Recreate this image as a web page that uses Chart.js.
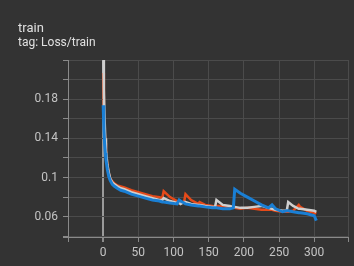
<!DOCTYPE html>
<html>
<head>
<meta charset="utf-8">
<script src="https://cdn.jsdelivr.net/npm/chart.js@4.4.1/dist/chart.umd.min.js"></script>
<style>
  html, body { margin: 0; padding: 0; background: #333333; }
  #wrap { position: relative; width: 354px; height: 266px; }
  .title { position: absolute; left: 18px; font-family: Roboto, sans-serif; color: #e0e0e0; white-space: nowrap; }
  #t1 { top: 20px; font-size: 13px; line-height: 15px; }
  #t2 { top: 35px; font-size: 12px; line-height: 14px; }
  canvas { position: absolute; left: 0; top: 0; }
</style>
</head>
<body>
<div id="wrap">
  <canvas id="lossChart" width="354" height="266"></canvas>
  <div class="title" id="t1">train</div>
  <div class="title" id="t2">tag: Loss/train</div>
</div>
<script>
// steps shared by all three runs
var steps = [0, 1, 2, 3, 4, 6, 8, 10, 13, 16, 20, 25, 30, 40, 50, 60, 70, 80, 84, 86,
  95, 105, 108, 110, 115, 117, 125, 135, 137, 145, 155, 159, 161, 170, 180, 185, 187,
  195, 205, 215, 225, 235, 240, 245, 255, 261, 263, 270, 278, 280, 290, 300, 303];

var lossGrey = [0.235, 0.19, 0.16, 0.14, 0.128, 0.113, 0.105, 0.099, 0.095, 0.093,
  0.091, 0.089, 0.088, 0.085, 0.083, 0.081, 0.079, 0.077, 0.077, 0.079,
  0.076, 0.074, 0.074, 0.073, 0.075, 0.075, 0.073, 0.072, 0.072, 0.071, 0.070, 0.070, 0.077,
  0.072, 0.071, 0.070, 0.070, 0.069, 0.069, 0.070, 0.071, 0.069, 0.068, 0.067, 0.066, 0.066,
  0.075, 0.071, 0.068, 0.068, 0.067, 0.066, 0.065];

var lossRed = [0.207, 0.17, 0.15, 0.135, 0.125, 0.112, 0.104, 0.099, 0.096, 0.094,
  0.092, 0.091, 0.090, 0.087, 0.085, 0.083, 0.081, 0.080, 0.079, 0.086,
  0.080, 0.076, 0.075, 0.074, 0.075, 0.083, 0.077, 0.073, 0.075, 0.072, 0.071, 0.070, 0.071,
  0.071, 0.069, 0.069, 0.069, 0.068, 0.069, 0.068, 0.067, 0.067, 0.067, 0.066, 0.065, 0.065,
  0.065, 0.066, 0.072, 0.070, 0.066, 0.064, 0.063];

var lossBlue = [0.174, 0.15, 0.135, 0.125, 0.118, 0.108, 0.101, 0.097, 0.093, 0.091,
  0.089, 0.087, 0.086, 0.083, 0.081, 0.079, 0.077, 0.076, 0.075, 0.075,
  0.074, 0.073, 0.077, 0.076, 0.074, 0.073, 0.072, 0.071, 0.071, 0.070, 0.069, 0.069, 0.069,
  0.068, 0.068, 0.069, 0.088, 0.084, 0.080, 0.076, 0.072, 0.069, 0.072, 0.068, 0.065, 0.066,
  0.066, 0.065, 0.064, 0.064, 0.063, 0.061, 0.056];

var yLabels = [6, 10, 14, 18];   // in hundredths
var xLabels = [0, 50, 100, 150, 200, 250, 300];

function pts(ys) {
  return steps.map(function (s, i) { return { x: s, y: ys[i] }; });
}

new Chart("lossChart", {
  type: "line",
  data: {
    datasets: [
      { data: pts(lossBlue), borderColor: "#1a7fd4", borderWidth: 3 },
      { data: pts(lossGrey), borderColor: "#cfcfcf", borderWidth: 2.5 },
      { data: pts(lossRed), borderColor: "#e64a19", borderWidth: 2.5 }
    ]
  },
  options: {
    responsive: false,
    animation: false,
    events: [],
    elements: { point: { radius: 0 }, line: { tension: 0 } },
    layout: { padding: { top: 60, right: 6, left: 0, bottom: 0 } },
    plugins: { legend: { display: false }, tooltip: { enabled: false } },
    scales: {
      x: {
        type: "linear",
        min: -50,
        max: 348,
        afterFit: function (s) { s.height = 29; },
        afterBuildTicks: function (s) {
          s.ticks = [-50, 0, 50, 100, 150, 200, 250, 300, 348].map(function (v) { return { value: v }; });
        },
        ticks: {
          autoSkip: false,
          maxRotation: 0,
          padding: 4,
          color: "#c4c4c4",
          font: { family: "Roboto", size: 12 },
          callback: function (v) { return xLabels.indexOf(v) >= 0 ? String(v) : ""; }
        },
        grid: {
          color: function (c) { return c.tick && c.tick.value === 0 ? "#9a9a9a" : "#4b4b4b"; },
          lineWidth: function (c) { return c.tick && c.tick.value === 0 ? 2 : 1; },
          tickColor: "#8a8a8a",
          tickLength: 5
        },
        border: { color: "#8a8a8a", width: 1 }
      },
      y: {
        min: 0.0392,
        max: 0.2202,
        afterFit: function (s) { s.width = 68; },
        afterBuildTicks: function (s) {
          var t = [0.0392];
          for (var k = 4; k <= 22; k += 2) t.push(k / 100);
          s.ticks = t.map(function (v) { return { value: v }; });
        },
        ticks: {
          padding: 5,
          color: "#c4c4c4",
          font: { family: "Roboto", size: 12 },
          callback: function (v) {
            var h = Math.round(v * 1000);
            if (h % 10 !== 0) return "";
            return yLabels.indexOf(h / 10) >= 0 ? String(h / 1000) : "";
          }
        },
        grid: { color: "#4b4b4b", tickColor: "#8a8a8a", tickLength: 5 },
        border: { color: "#8a8a8a", width: 1 }
      }
    }
  }
});
</script>
</body>
</html>
